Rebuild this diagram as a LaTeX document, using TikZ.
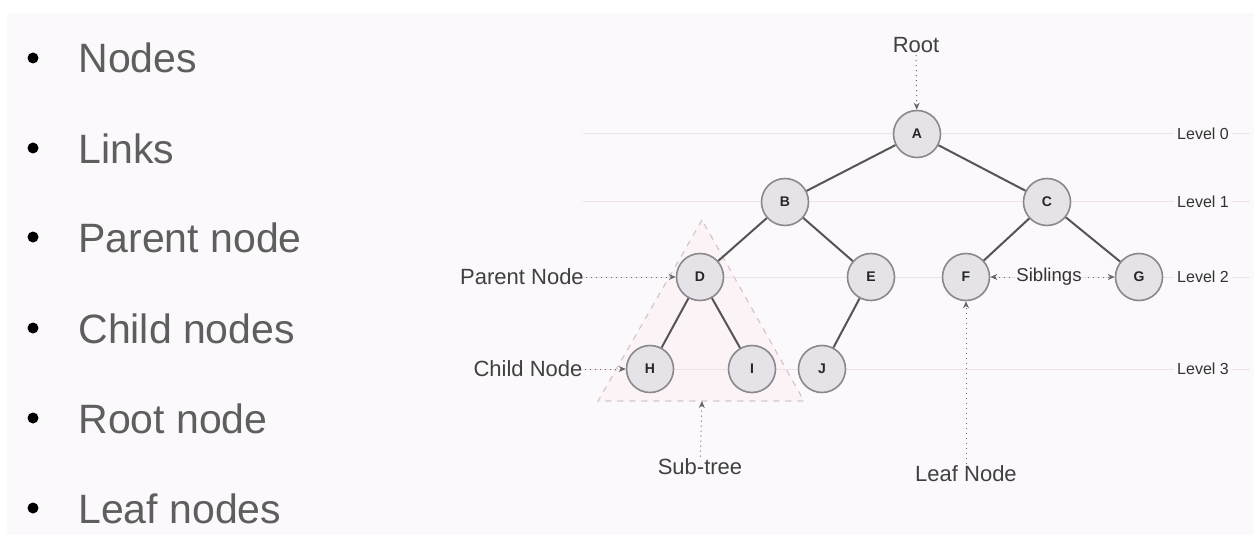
\documentclass[tikz,border=0pt]{standalone}
\usepackage{fontspec}
\setmainfont{Liberation Sans}
\usetikzlibrary{arrows.meta}
\definecolor{bg}{HTML}{FBF9FB}
\definecolor{nodefill}{HTML}{E6E3E8}
\definecolor{nodeborder}{HTML}{8A888C}
\definecolor{edgecol}{HTML}{555555}
\definecolor{lvlcol}{HTML}{F0E0E7}
\definecolor{pinkline}{HTML}{D5C6CC}
\definecolor{pinkfill}{HTML}{FCF3F7}
\definecolor{textgray}{HTML}{5E5E5E}
\begin{document}
\begin{tikzpicture}[x=0.5pt,y=-0.5pt,
  tnode/.style={circle, draw=nodeborder, fill=nodefill, line width=0.8pt, minimum size=23.5pt, inner sep=0pt, font=\fontsize{7}{8}\selectfont\bfseries, text=black!85},
  link/.style={draw=edgecol, line width=1pt},
  pointer/.style={draw=black!60, dotted, line width=0.5pt, -{Stealth[length=3.5pt,width=3pt]}},
  lab/.style={font=\fontsize{11}{13}\selectfont, text=black!75, inner sep=1pt},
  siblab/.style={font=\fontsize{9.3}{11}\selectfont, text=black!80, inner sep=3pt},
  lvl/.style={font=\fontsize{8}{10}\selectfont, text=black!80, fill=bg, inner sep=1.5pt},
  lvlline/.style={draw=lvlcol, line width=0.5pt},
  dot/.style={circle, fill=black, minimum size=5.5pt, inner sep=0pt},
  btext/.style={anchor=base west, font=\fontsize{20.5}{24}\selectfont, text=textgray, inner sep=0pt}
]
\useasboundingbox (0,0) rectangle (1254,535);
\fill[white] (0,0) rectangle (1254,535);
\fill[bg] (7,13) rectangle (1254,535);

% bullet list
\foreach \i/\y/\t in {1/58/Nodes, 2/148/Links, 3/237/Parent node, 4/328/Child nodes, 5/418/Root node, 6/508/Leaf nodes}{
  \node[dot] (d\i) at (33,\y) {};
  \node[btext] (t\i) at (78,\y+15) {\t};
}

% sub-tree triangle
\coordinate (tA) at (702,220);
\coordinate (tL) at (598,401);
\coordinate (tR) at (804,401);
\coordinate (tB) at (702,401);
\draw[pinkline, fill=pinkfill, dashed, line width=0.6pt] (tA) -- (tL) -- (tR) -- cycle;

% level lines
\foreach \i/\y in {0/134, 1/202, 2/277, 3/369}{
  \coordinate (ls\i) at (583,\y);
  \coordinate (le\i) at (1250,\y);
  \draw[lvlline] (ls\i) -- (le\i);
  \node[lvl] (lv\i) at (1203,\y) {Level \i};
}

% tree nodes
\node[tnode] (A) at (917,134) {A};
\node[tnode] (B) at (785,202) {B};
\node[tnode] (C) at (1047,202) {C};
\node[tnode] (D) at (700,277) {D};
\node[tnode] (E) at (871,277) {E};
\node[tnode] (F) at (966,277) {F};
\node[tnode] (G) at (1139,277) {G};
\node[tnode] (H) at (650,369) {H};
\node[tnode] (I) at (752,369) {I};
\node[tnode] (J) at (822,369) {J};

% links
\draw[link] (A) -- (B);
\draw[link] (A) -- (C);
\draw[link] (B) -- (D);
\draw[link] (B) -- (E);
\draw[link] (C) -- (F);
\draw[link] (C) -- (G);
\draw[link] (D) -- (H);
\draw[link] (D) -- (I);
\draw[link] (E) -- (J);

% labels and pointers
\node[lab] (root) at (916,45) {Root};
\draw[pointer] (root) -- (A);
\node[lab] (parent) at (522,277) {Parent Node};
\draw[pointer] (parent) -- (D);
\node[lab] (child) at (528,369) {Child Node};
\draw[pointer] (child) -- (H);
\node[lab] (sub) at (700,467) {Sub-tree};
\draw[pointer] (sub) -- (tB);
\node[lab] (leaf) at (966,474) {Leaf Node};
\draw[pointer] (leaf) -- (F);
\node[siblab] (sib) at (1049,277) {Siblings};
\draw[pointer] (sib) -- (F);
\draw[pointer] (sib) -- (G);
\end{tikzpicture}
\end{document}
